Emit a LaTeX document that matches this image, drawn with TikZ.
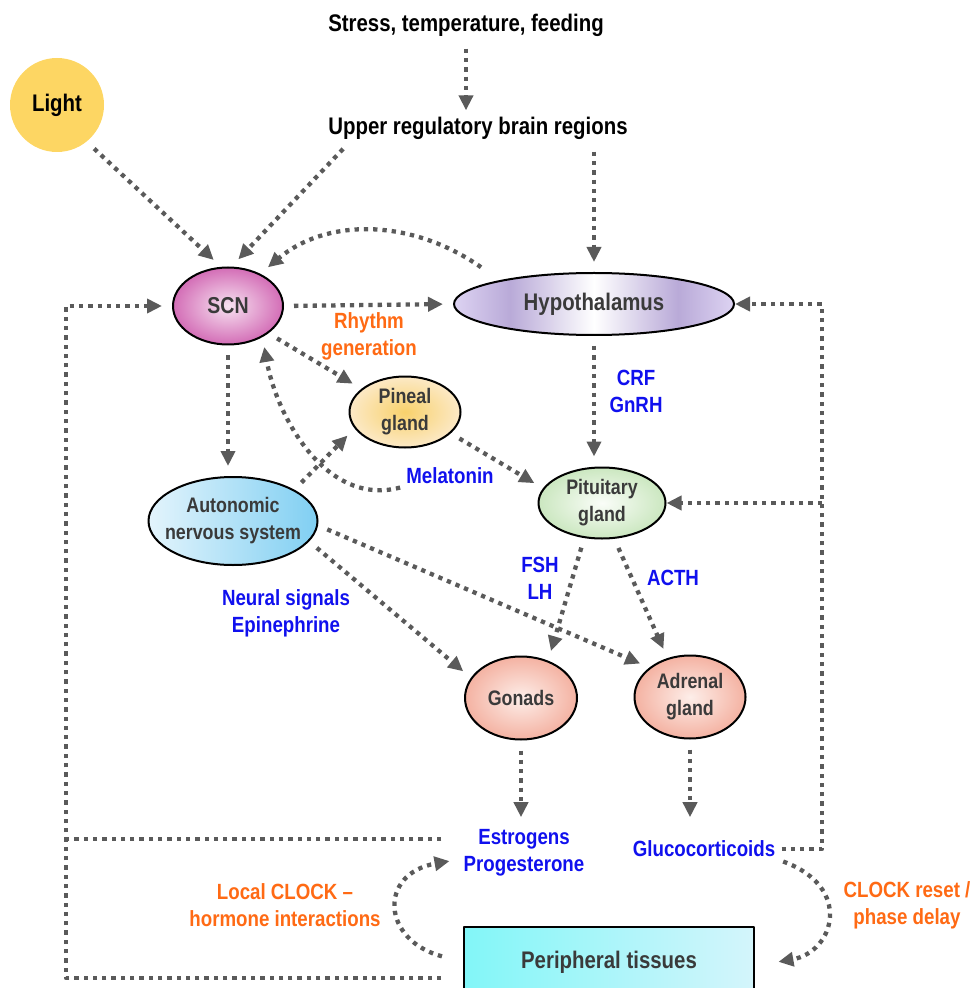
\documentclass[tikz,border=0pt]{standalone}
\usepackage{fontspec}
\setmainfont{Liberation Sans}[FakeStretch=0.85]
\usetikzlibrary{arrows.meta,shapes.geometric}

\definecolor{flowgray}{HTML}{5A5A5A}
\definecolor{txtgray}{HTML}{3A3A3A}
\definecolor{hormblue}{HTML}{1010EE}
\definecolor{procorange}{HTML}{FF6A14}
\definecolor{lightgold}{HTML}{FDD663}
\definecolor{scnin}{HTML}{F7E2F1}
\definecolor{scnout}{HTML}{D36DB6}
\definecolor{hyplight}{HTML}{DDD3F2}
\definecolor{hypdeep}{HTML}{B9AAD8}
\definecolor{pinin}{HTML}{F8D16C}
\definecolor{pinout}{HTML}{FCE9C6}
\definecolor{pitin}{HTML}{FAFDF8}
\definecolor{pitout}{HTML}{CBE7C0}
\definecolor{ansleft}{HTML}{E3F4FC}
\definecolor{ansright}{HTML}{80CFF2}
\definecolor{glandin}{HTML}{FDEEE9}
\definecolor{glandout}{HTML}{F4B2A2}
\definecolor{perileft}{HTML}{82F6F8}
\definecolor{periright}{HTML}{D4F5FB}

\pgfdeclarehorizontalshading{hypshade}{100bp}{color(0bp)=(hyplight); color(25bp)=(hyplight);
  color(35bp)=(hypdeep); color(50bp)=(white); color(65bp)=(hypdeep); color(75bp)=(hyplight);
  color(100bp)=(hyplight)}

\begin{document}
\begin{tikzpicture}[x=0.5pt, y=0.5pt, font=\bfseries, line join=round, >={Triangle[length=7.5pt,width=7pt]},
    hub/.style={ellipse, draw=black, line width=1pt, inner xsep=-6pt, inner ysep=-4pt, text=txtgray,
      align=center, font=\bfseries\fontsize{10.5}{13.5}\selectfont},
    headtxt/.style={inner sep=1pt, font=\bfseries\fontsize{12}{14}\selectfont},
    hormone/.style={inner sep=1pt, text=hormblue, align=center, font=\bfseries\fontsize{11}{13.5}\selectfont},
    effect/.style={inner sep=1pt, text=procorange, align=center, font=\bfseries\fontsize{11}{13.5}\selectfont},
    link/.style={draw=flowgray, line width=2.15pt, dash pattern=on 2.15pt off 2.5pt},
    flow/.style={->, link, shorten >=5pt, shorten <=5pt}]
  \useasboundingbox (0,0) rectangle (974,-988);

  % inputs
  \node[headtxt, circle, fill=lightgold, minimum size=47pt, inner sep=0pt] (light) at (57,-105) {Light};
  \node[headtxt] (stress) at (466,-25) {Stress, temperature, feeding};
  \node[headtxt] (upper) at (478,-128) {Upper regulatory brain regions};

  % central and endocrine nodes
  \node[hub, minimum width=55pt, minimum height=38.5pt, inner color=scnin, outer color=scnout,
    font=\bfseries\fontsize{11.5}{13.5}\selectfont] (scn) at (228,-306) {SCN};
  \node[hub, minimum width=140pt, minimum height=31pt, shade, shading=hypshade,
    font=\bfseries\fontsize{12}{14}\selectfont] (hyp) at (594,-304) {Hypothalamus};
  \node[hub, minimum width=55.5pt, minimum height=35.5pt, inner color=pinin, outer color=pinout] (pineal) at (405,-412) {Pineal\\gland};
  \node[hub, minimum width=84.5pt, minimum height=44pt, left color=ansleft, right color=ansright] (ans) at (233,-521) {Autonomic\\nervous system};
  \node[hub, minimum width=63.5pt, minimum height=35.5pt, inner color=pitin, outer color=pitout] (pit) at (602,-503) {Pituitary\\gland};
  \node[hub, minimum width=56pt, minimum height=41.5pt, inner color=glandin, outer color=glandout] (gon) at (521,-698) {Gonads};
  \node[hub, minimum width=55.5pt, minimum height=41.5pt, inner color=glandin, outer color=glandout] (adr) at (690,-697) {Adrenal\\gland};
  \node[rectangle, draw=black, line width=0.8pt, minimum width=145pt, minimum height=35pt, left color=perileft,
    right color=periright, text=txtgray, font=\bfseries\fontsize{12}{14}\selectfont] (peri) at (609,-962) {Peripheral tissues};

  % labels
  \node[effect] (rhythm) at (369,-336) {Rhythm\\generation};
  \node[hormone] (mel) at (450,-476) {Melatonin};
  \node[hormone] (crf) at (636,-391) {CRF\\GnRH};
  \node[hormone] (fsh) at (540,-578) {FSH\\LH};
  \node[hormone] (acth) at (673,-578) {ACTH};
  \node[hormone] (neural) at (286,-613) {Neural signals\\Epinephrine};
  \node[hormone] (estr) at (524,-853) {Estrogens\\Progesterone};
  \node[hormone] (gluc) at (704,-849) {Glucocorticoids};
  \node[effect] (localclk) at (285,-905) {Local CLOCK --\\hormone interactions};
  \node[effect] (reset) at (907,-905) {CLOCK reset /\\phase delay};

  \coordinate (lloop) at (66,-306);
  \coordinate (rloop) at (822,-304);
  \coordinate (estrl) at ([yshift=7pt]estr.west);

  % arrows
  \draw[flow, shorten >=2pt] (stress.south) -- (stress.south |- upper.north);
  \draw[flow] (light.-51) -- (scn.100);
  \draw[flow] ([xshift=12pt]upper.south west) -- (scn.85);
  \draw[flow] (upper.south -| hyp.north) -- (hyp.north);
  \draw[flow, shorten <=1pt] ([yshift=8pt]hyp.170) to[out=145, in=40] (scn.45);
  \draw[flow] (scn.east) -- (hyp.west);
  \draw[flow] (scn.-34) -- (pineal.152);
  \draw[flow] (scn.south) -- (scn.south |- ans.north);
  \draw[flow] (ans.27) -- (pineal.198);
  \draw[flow, shorten <=2pt] (mel.south west) to[out=195, in=-80] (scn.-42);
  \draw[flow] (pineal.-25) -- (pit.166);
  \draw[flow] (hyp.south) -- (hyp.south |- pit.north);
  \draw[flow] (pit.243) -- (gon.54);
  \draw[flow] (pit.-71) -- (adr.120);
  \draw[flow] (ans.-15) -- (gon.158);
  \draw[flow] (ans.-3) -- (adr.144);
  \draw[flow] (gon.south) -- (gon.south |- estr.north);
  \draw[flow] (adr.south) -- (adr.south |- estr.north);

  % feedback loops
  \draw[flow, shorten <=2pt, shorten >=0pt] (gluc.east) -| (rloop) -- (hyp.east);
  \draw[flow, shorten <=0pt, shorten >=0pt] (rloop |- pit.east) -- (pit.east);
  \draw[flow, shorten <=11pt] ([yshift=-8pt]peri.west) -| (lloop) -- (scn.west);
  \draw[link, shorten <=10pt] (estrl) -- (lloop |- estrl);
  \draw[flow, shorten <=11pt, shorten >=6pt] (peri.west) to[out=165, in=190, looseness=2.1] ([yshift=-3pt]estr.west);
  \draw[flow, shorten <=3pt, shorten >=12pt] (gluc.south east) to[out=-20, in=10, looseness=1.9] ([yshift=-2pt]peri.east);
\end{tikzpicture}
\end{document}
